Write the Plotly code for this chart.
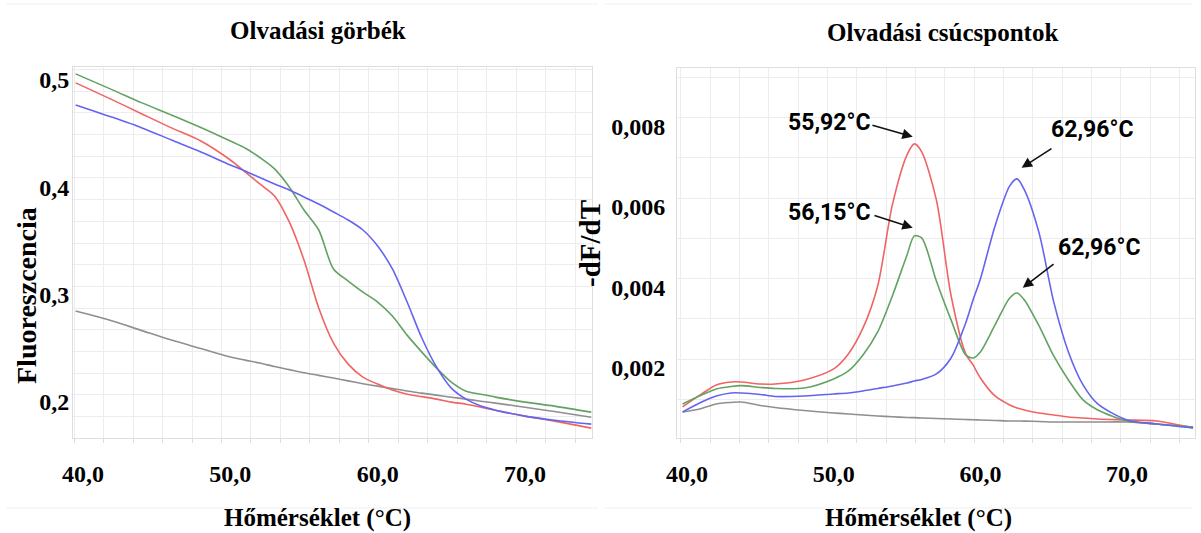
import plotly.graph_objects as go

# ---------------- data: melting curves (left) ----------------
temp_melt = [39.5, 42, 44, 46, 48, 50, 51, 52, 53, 54, 55, 56, 57, 58, 59, 60,
             61, 62, 63, 64, 65, 66, 67, 68, 70, 72, 74.5]
melt_red = [0.4972, 0.4814, 0.4683, 0.4553, 0.4431, 0.4254, 0.4143, 0.4031, 0.3919,
            0.3677, 0.3322, 0.2875, 0.2549, 0.2353, 0.2232, 0.2167, 0.2111, 0.2073,
            0.2050, 0.2027, 0.1999, 0.1980, 0.1952, 0.1924, 0.1869, 0.1822, 0.1757]
melt_green = [0.5056, 0.4907, 0.4786, 0.4674, 0.4557, 0.4431, 0.4366, 0.4277, 0.4171,
              0.4003, 0.3788, 0.3602, 0.3239, 0.3127, 0.3024, 0.2931, 0.2801, 0.2623,
              0.2465, 0.2316, 0.2185, 0.2101, 0.2073, 0.2046, 0.1999, 0.1962, 0.1906]
melt_blue = [0.4767, 0.4651, 0.4553, 0.4441, 0.4329, 0.4208, 0.4152, 0.4090, 0.4031,
             0.3975, 0.3910, 0.3844, 0.3770, 0.3695, 0.3602, 0.3453, 0.3239, 0.2931,
             0.2596, 0.2325, 0.2130, 0.2027, 0.1962, 0.1924, 0.1869, 0.1831, 0.1794]
melt_gray = [0.2847, 0.2754, 0.2665, 0.2577, 0.2498, 0.2419, 0.2390, 0.2363, 0.2330,
             0.2302, 0.2273, 0.2248, 0.2223, 0.2197, 0.2171, 0.2148, 0.2125, 0.2102,
             0.2083, 0.2064, 0.2045, 0.2027, 0.2008, 0.1990, 0.1952, 0.1911, 0.1859]

# ---------------- data: melting peaks (right) ----------------
temp_peak = [39.7, 41, 42, 43, 43.7, 45, 46, 48, 50, 51, 52, 53, 54, 55, 55.5, 56,
             57, 58, 59, 59.5, 60, 61, 62, 62.5, 63, 64, 65, 66, 67, 68, 70, 72, 74.5]
peak_red = [0.001031, 0.001354, 0.001578, 0.001652, 0.001652, 0.001602, 0.001602,
            0.001702, 0.001975, 0.002348, 0.002994, 0.004037, 0.006050, 0.007292,
            0.007565, 0.007366, 0.006174, 0.003800, 0.002350, 0.002075, 0.001752,
            0.001304, 0.001081, 0.001006, 0.000957, 0.000882, 0.000832, 0.000783,
            0.000758, 0.000733, 0.000708, 0.000683, 0.000509]
peak_green = [0.001106, 0.001329, 0.001478, 0.001540, 0.001560, 0.001516, 0.001491,
              0.001503, 0.001727, 0.001925, 0.002323, 0.002894, 0.003789, 0.004807,
              0.005280, 0.005230, 0.004161, 0.003193, 0.002323, 0.002248, 0.002398,
              0.003068, 0.003739, 0.003863, 0.003689, 0.003043, 0.002298, 0.001702,
              0.001205, 0.000957, 0.000683, 0.000609, 0.000534]
peak_blue = [0.000907, 0.001155, 0.001304, 0.001379, 0.001379, 0.001342, 0.001292,
             0.001304, 0.001354, 0.001379, 0.001429, 0.001491, 0.001553, 0.001627,
             0.001677, 0.001714, 0.001851, 0.002248, 0.003118, 0.003689, 0.004211,
             0.005528, 0.006522, 0.006696, 0.006422, 0.005354, 0.003640, 0.002398,
             0.001578, 0.001106, 0.000708, 0.000609, 0.000509]
peak_gray = [0.000907, 0.000994, 0.001106, 0.001143, 0.001155, 0.001068, 0.001019,
             0.000944, 0.000882, 0.000857, 0.000832, 0.000807, 0.000788, 0.000770,
             0.000765, 0.000758, 0.000745, 0.000733, 0.000718, 0.000713, 0.000708,
             0.000696, 0.000683, 0.000683, 0.000678, 0.000671, 0.000658, 0.000658,
             0.000658, 0.000658, 0.000658, 0.000609, 0.000534]

# ---------------- tick labels ----------------
x_ticks = [40, 50, 60, 70]
melt_y_ticks = [0.2, 0.3, 0.4, 0.5]
peak_y_ticks = [0.002, 0.004, 0.006, 0.008]

# ---------------- peak annotations ----------------
peak_labels = ["55,92°C", "56,15°C", "62,96°C", "62,96°C"]
label_T = [49.71, 49.71, 67.59, 68.07]
label_v = [0.00809, 0.00585, 0.00792, 0.00498]
arrow_tail_T = [52.54, 52.68, 64.95, 65.09]
arrow_tail_v = [0.00804, 0.00580, 0.00747, 0.00461]
arrow_head_T = [55.39, 55.39, 62.81, 62.89]
arrow_head_v = [0.00774, 0.00548, 0.00697, 0.00399]

W, H = 1201, 533
COL = {"red": "#f06464", "green": "#62a262", "blue": "#6464f0", "gray": "#8f8f8f"}
SERIF = "Liberation Serif, Times New Roman, serif"

fig = go.Figure()
for key, vals in [("gray", melt_gray), ("red", melt_red), ("green", melt_green), ("blue", melt_blue)]:
    fig.add_trace(go.Scatter(x=temp_melt, y=vals, mode="lines", xaxis="x", yaxis="y",
                             line=dict(color=COL[key], width=1.6, shape="spline", smoothing=0.8),
                             showlegend=False, hoverinfo="skip"))
for key, vals in [("gray", peak_gray), ("red", peak_red), ("green", peak_green), ("blue", peak_blue)]:
    fig.add_trace(go.Scatter(x=temp_peak, y=vals, mode="lines", xaxis="x2", yaxis="y2",
                             line=dict(color=COL[key], width=1.6, shape="spline", smoothing=0.8),
                             showlegend=False, hoverinfo="skip"))

tickfont = dict(family=SERIF, size=24, color="black", weight="bold")
grid_minor_x = dict(tickmode="linear", dtick=2, showgrid=True, gridcolor="#ececec", gridwidth=1,
                    ticks="outside", ticklen=4, tickcolor="#dddddd")
common = dict(showline=True, linecolor="#dedede", linewidth=1, mirror=True, zeroline=False,
              showgrid=False, ticks="", tickfont=tickfont, automargin=False)

fig.update_layout(
    template="none",
    width=W, height=H, margin=dict(l=0, r=0, t=0, b=0, pad=0), autosize=False,
    paper_bgcolor="white", plot_bgcolor="white", separators=", ", showlegend=False,
    xaxis=dict(domain=[73 / W, 592 / W], range=[39.32, 74.55], anchor="y",
               tickmode="array", tickvals=x_ticks, tickformat=".1f", ticklabelstandoff=14,
               minor=dict(grid_minor_x, tick0=41.4), **common),
    yaxis=dict(domain=[1 - 438 / H, 1 - 67 / H], range=[0.1665, 0.512], anchor="x",
               tickmode="array", tickvals=melt_y_ticks, tickformat=".1f", ticklabelstandoff=-2,
               minor=dict(tickmode="linear", tick0=0.4087, dtick=0.0202, showgrid=True,
                          gridcolor="#ececec", gridwidth=1), **common),
    xaxis2=dict(domain=[677 / W, 1195 / W], range=[39.32, 74.63], anchor="y2",
                tickmode="array", tickvals=x_ticks, tickformat=".1f", ticklabelstandoff=14,
                minor=dict(grid_minor_x, tick0=41.57), **common),
    yaxis2=dict(domain=[1 - 438 / H, 1 - 68 / H], range=[0.00026, 0.00945], anchor="x2",
                tickmode="array", tickvals=peak_y_ticks, tickformat=".3f", ticklabelstandoff=6,
                minor=dict(tickmode="linear", tick0=0.00022, dtick=0.001, showgrid=True,
                           gridcolor="#ececec", gridwidth=1), **common),
)

titlefont = dict(family=SERIF, size=25, color="black", weight="bold")
anns = [
    dict(text="Olvadási görbék", x=318 / W, y=1 - 30 / H, font=titlefont),
    dict(text="Olvadási csúcspontok", x=942 / W, y=1 - 33 / H, font=titlefont),
    dict(text="Hőmérséklet (°C)", x=317 / W, y=1 - 518 / H, font=titlefont),
    dict(text="Hőmérséklet (°C)", x=918 / W, y=1 - 518 / H, font=titlefont),
    dict(text="Fluoreszcencia", x=26 / W, y=1 - 296 / H, textangle=-90,
         font=dict(family=SERIF, size=28, color="black", weight="bold")),
    dict(text="-dF/dT", x=590 / W, y=1 - 244 / H, textangle=-90,
         font=dict(family=SERIF, size=29, color="black", weight="bold")),
]
for a in anns:
    fig.add_annotation(xref="paper", yref="paper", showarrow=False,
                       xanchor="center", yanchor="middle", **a)

labelfont = dict(family="Roboto, Arial, sans-serif", size=23, color="black", weight="bold")
for i, lab in enumerate(peak_labels):
    fig.add_annotation(xref="x2", yref="y2", x=label_T[i], y=label_v[i], text=lab,
                       showarrow=False, font=labelfont, xanchor="center", yanchor="middle")
    fig.add_annotation(xref="x2", yref="y2", axref="x2", ayref="y2",
                       x=arrow_head_T[i], y=arrow_head_v[i],
                       ax=arrow_tail_T[i], ay=arrow_tail_v[i], text="",
                       showarrow=True, arrowhead=2, arrowsize=1.3, arrowwidth=1.6,
                       arrowcolor="#111111")

# faint panel frames
for x0, x1 in [(6, 598), (604, 1192)]:
    for yy in (4, 508):
        fig.add_shape(type="line", xref="paper", yref="paper",
                      x0=x0 / W, x1=x1 / W, y0=1 - yy / H, y1=1 - yy / H,
                      line=dict(color="#f0f0f0", width=1))

fig.write_html("out.html", config={"displayModeBar": False},
               post_script="document.body.style.margin='0';document.body.style.overflow='hidden';")
